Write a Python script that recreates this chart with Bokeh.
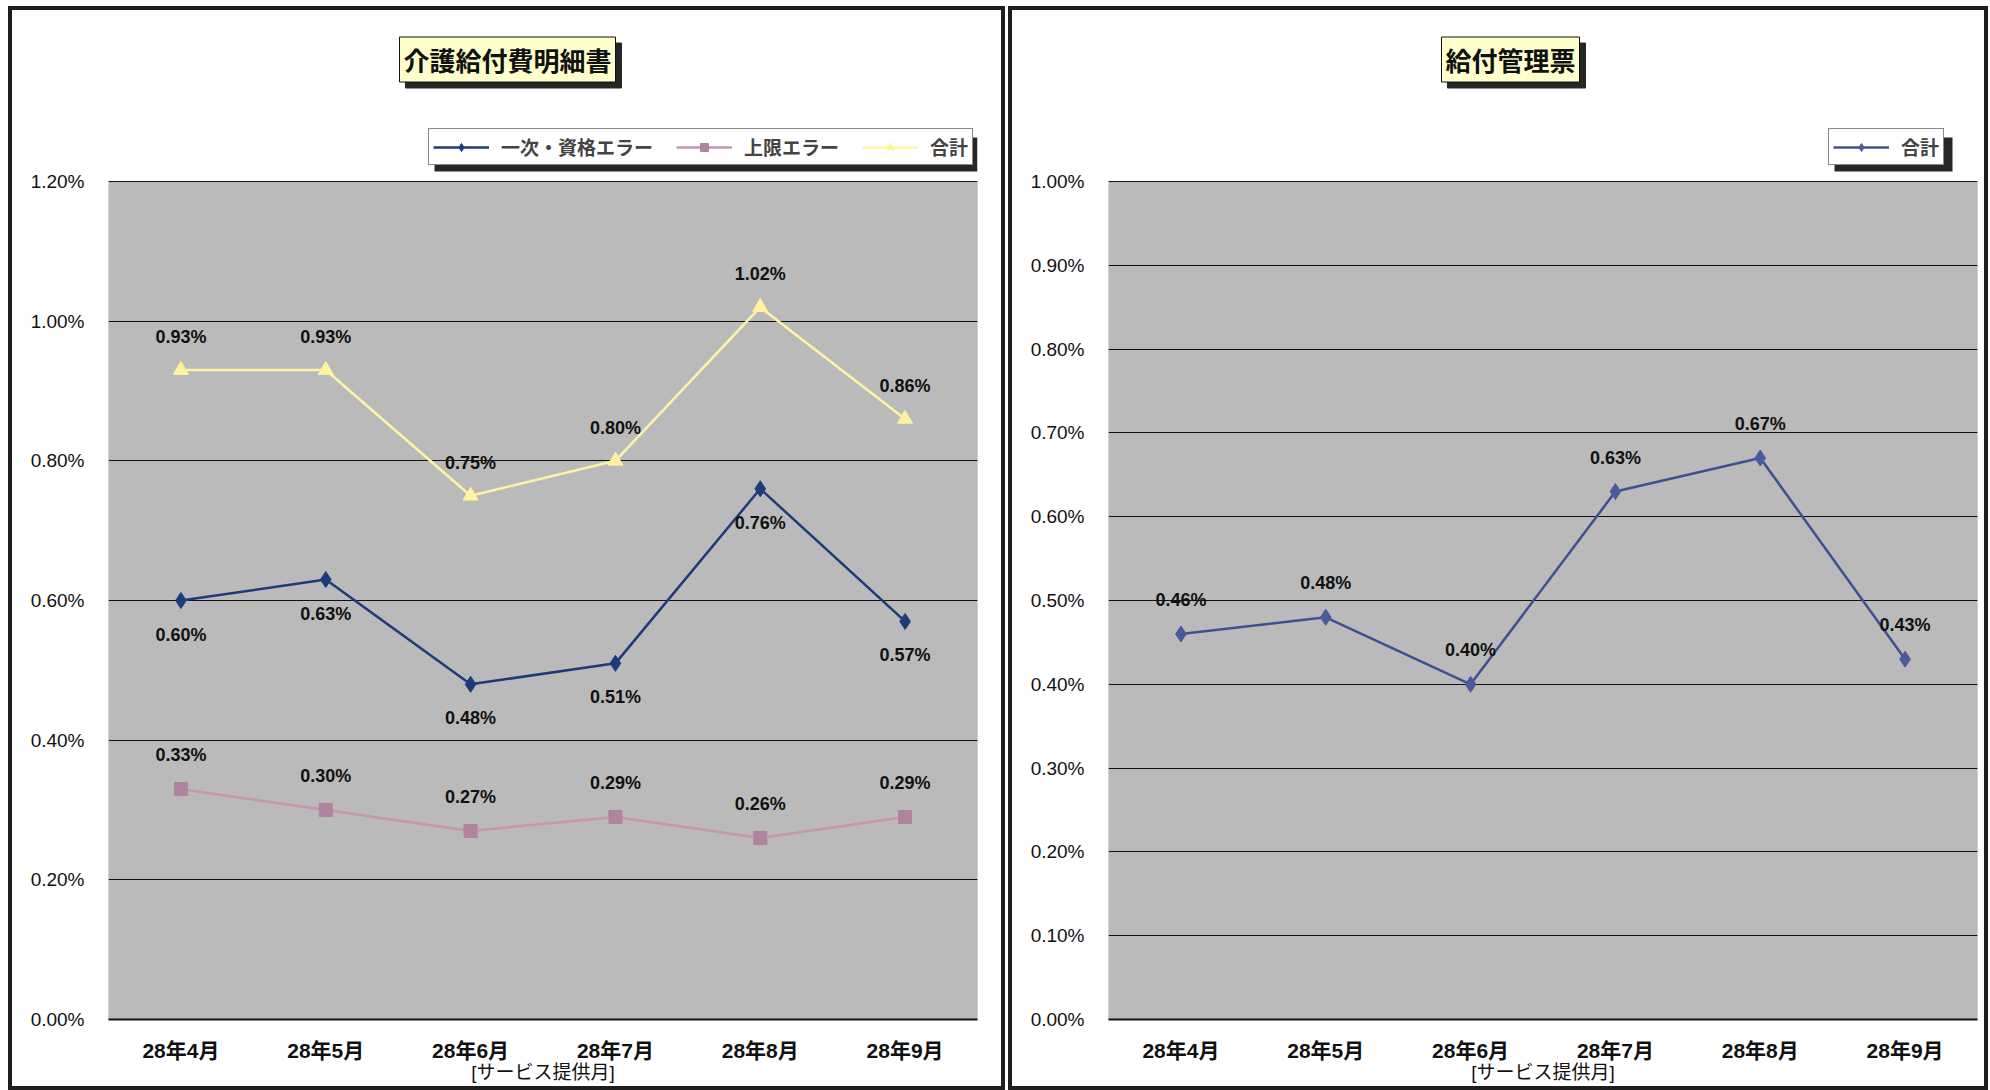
from bokeh.plotting import figure
from bokeh.models import (Range1d, FactorRange, ColumnDataSource, LabelSet, Label,
                          Legend, LegendItem, PrintfTickFormatter, FixedTicker,
                          BoxAnnotation)
from bokeh.layouts import row
from bokeh.embed import file_html
from bokeh.resources import INLINE
from bokeh.core.properties import value

# ---------------- data ----------------
months = ["28年4月", "28年5月", "28年6月", "28年7月", "28年8月", "28年9月"]

left_title = "介護給付費明細書"
right_title = "給付管理票"
x_axis_title = "[サービス提供月]"

left_primary_name = "一次・資格エラー"
left_primary = [0.60, 0.63, 0.48, 0.51, 0.76, 0.57]
left_limit_name = "上限エラー"
left_limit = [0.33, 0.30, 0.27, 0.29, 0.26, 0.29]
left_total_name = "合計"
left_total = [0.93, 0.93, 0.75, 0.80, 1.02, 0.86]

right_total_name = "合計"
right_total = [0.46, 0.48, 0.40, 0.63, 0.67, 0.43]

JP = "Noto Sans CJK JP"
NUM = "Liberation Sans"
MIXED = "Liberation Sans, Noto Sans CJK JP"

# ---------------- layout constants (pixels) ----------------
FIG_H = 1084
BOTTOM = 75
FRAME_H = FIG_H - BOTTOM  # frame covers header area + plot area
PLOT_TOP_GAP = 171        # header space above the gray plot area
SHADOW = "#262626"


def make_chart(title, ymax, ystep, series, width, min_left, min_right,
               title_x, legend_x, legend_w):
    y_top = ymax * FRAME_H / (FRAME_H - PLOT_TOP_GAP)
    p = figure(x_range=FactorRange(*months, range_padding=0),
               y_range=Range1d(0, y_top), width=width, height=FIG_H,
               output_backend="svg", toolbar_location=None,
               min_border_left=min_left, min_border_right=min_right,
               min_border_top=0, min_border_bottom=BOTTOM,
               background_fill_color="white", border_fill_color="white",
               outline_line_color=None)
    p.styles = {"border": "4px solid #1e1e1e", "box-sizing": "border-box"}

    # gray plot area
    p.add_layout(BoxAnnotation(bottom=0, top=ymax, fill_color="#bababa", fill_alpha=1,
                               line_color="#222222", line_width=1, level="image"))

    p.xgrid.grid_line_color = None
    p.ygrid.grid_line_color = "#111111"
    p.ygrid.grid_line_width = 1
    nticks = int(round(ymax / ystep))
    ticks = [round(i * ystep, 2) for i in range(nticks + 1)]
    p.yaxis.ticker = FixedTicker(ticks=ticks)
    p.ygrid.ticker = FixedTicker(ticks=ticks)
    p.yaxis.formatter = PrintfTickFormatter(format="%.2f%%")
    p.yaxis.axis_line_color = None
    p.yaxis.major_tick_line_color = None
    p.yaxis.minor_tick_line_color = None
    p.yaxis.major_label_text_font = NUM
    p.yaxis.major_label_text_font_size = "19px"
    p.yaxis.major_label_text_color = "#111111"
    p.yaxis.major_label_standoff = 18

    p.xaxis.axis_line_color = "#111111"
    p.xaxis.axis_line_width = 2
    p.xaxis.major_tick_line_color = None
    p.xaxis.major_label_text_font = MIXED
    p.xaxis.major_label_text_font_style = "bold"
    p.xaxis.major_label_text_font_size = "21px"
    p.xaxis.major_label_text_color = "#111111"
    p.xaxis.major_label_standoff = 13
    p.xaxis.axis_label = x_axis_title
    p.xaxis.axis_label_text_font = MIXED
    p.xaxis.axis_label_text_font_style = "normal"
    p.xaxis.axis_label_text_font_size = "19px"
    p.xaxis.axis_label_text_color = "#111111"
    p.xaxis.axis_label_standoff = -3

    items = []
    for s in series:
        r_line = p.line(months, s["values"], line_color=s["color"], line_width=2.5)
        r_mark = p.scatter(months, s["values"], marker=s["marker"], size=s["size"],
                           fill_color=s["mcolor"], line_color=s["mcolor"])
        items.append(LegendItem(label=s["name"], renderers=[r_line, r_mark]))
        src = ColumnDataSource(dict(x=months, y=s["values"],
                                    t=[f"{v:.2f}%" for v in s["values"]]))
        p.add_layout(LabelSet(x="x", y="y", text="t", source=src,
                              y_offset=s["label_dy"], text_align="center",
                              text_baseline="middle", text_font=value(NUM),
                              text_font_style="bold", text_font_size="18px",
                              text_color="#111111"))

    # legend (with drop shadow) in header area above the plot area
    legend_bottom = FRAME_H - 155
    legend_h = 34
    p.add_layout(BoxAnnotation(left=legend_x + 6, right=legend_x + legend_w + 6,
                               top=legend_bottom + legend_h - 6, bottom=legend_bottom - 6,
                               left_units="screen", right_units="screen",
                               top_units="screen", bottom_units="screen",
                               fill_color=SHADOW, fill_alpha=1, line_color=None))
    legend = Legend(items=items, location=(legend_x, legend_bottom),
                    orientation="horizontal",
                    border_line_color="#111111", border_line_width=1.5,
                    background_fill_color="white", background_fill_alpha=1,
                    label_text_font=JP, label_text_font_style="bold",
                    label_text_font_size="19px", glyph_width=56, glyph_height=20,
                    label_standoff=12, spacing=23, padding=4, margin=0)
    p.add_layout(legend)

    # title box (with drop shadow)
    ty = FRAME_H - 49
    common = dict(x=title_x, y=ty, x_units="screen", y_units="screen", text=title,
                  text_align="center", text_baseline="middle", text_font=JP,
                  text_font_style="bold", text_font_size="26px", padding=4)
    p.add_layout(Label(x_offset=6, y_offset=-6, text_color=SHADOW,
                       background_fill_color=SHADOW, border_line_color=SHADOW, **common))
    p.add_layout(Label(text_color="#111111", background_fill_color="#ffffcc",
                       border_line_color="#111111", border_line_width=1, **common))
    return p


left_series = [
    dict(name=left_primary_name, values=left_primary, color="#1f3a78", mcolor="#1f3a78",
         marker="diamond", size=16, label_dy=-34),
    dict(name=left_limit_name, values=left_limit, color="#c995b0", mcolor="#b083a0",
         marker="square", size=13, label_dy=34),
    dict(name=left_total_name, values=left_total, color="#fff4a6", mcolor="#fff2a0",
         marker="triangle", size=15, label_dy=33),
]
right_series = [
    dict(name=right_total_name, values=right_total, color="#3f5090", mcolor="#4a5a9a",
         marker="diamond", size=16, label_dy=34),
]

p1 = make_chart(left_title, 1.2, 0.2, left_series, 997, 96, 32, 399, 320, 543)
p2 = make_chart(right_title, 1.0, 0.1, right_series, 980, 96, 15, 402, 720, 118)

layout = row(p1, p2, spacing=3)
layout.margin = (6, 0, 0, 8)
open("out.html", "w").write(file_html(layout, INLINE))
